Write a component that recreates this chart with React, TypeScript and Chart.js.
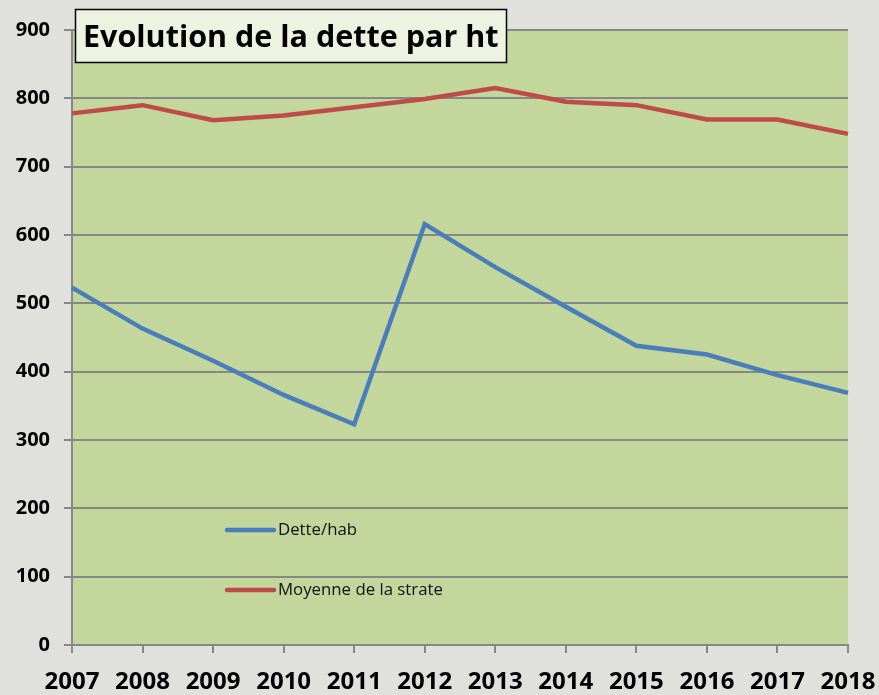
import React, { useEffect, useRef } from "react";
import { Chart, registerables } from "chart.js";

Chart.register(...registerables);

const years = ["2007", "2008", "2009", "2010", "2011", "2012", "2013", "2014", "2015", "2016", "2017", "2018"];
const detteHab = [523, 463, 416, 366, 323, 616, 553, 495, 438, 425, 395, 369];
const moyenneStrate = [778, 790, 768, 775, 787, 799, 815, 795, 790, 769, 769, 748];
const titleText = "Evolution de la dette par ht";
const seriesLabels = ["Dette/hab", "Moyenne de la strate"];

const FONT = "'Open Sans', 'DejaVu Sans', sans-serif";

const plotBg = {
  id: "plotBg",
  beforeDraw(chart: any) {
    const { ctx, chartArea } = chart;
    ctx.save();
    ctx.fillStyle = "#c3d69b";
    ctx.fillRect(chartArea.left, chartArea.top, chartArea.right - chartArea.left, chartArea.bottom - chartArea.top);
    ctx.restore();
  },
};

const overlay = {
  id: "overlay",
  afterDraw(chart: any) {
    const { ctx, chartArea } = chart;
    ctx.save();
    // title box
    const bx = 75.5, by = 9.5, bw = 431, bh = 53;
    ctx.fillStyle = "#eef2e1";
    ctx.fillRect(bx, by, bw, bh);
    ctx.strokeStyle = "#000";
    ctx.lineWidth = 1.5;
    ctx.strokeRect(bx, by, bw, bh);
    ctx.fillStyle = "#000";
    ctx.font = `bold 30.5px ${FONT}`;
    ctx.textBaseline = "middle";
    ctx.textAlign = "left";
    ctx.fillText(titleText, 83, by + bh / 2 + 2);

    // legend
    const lx = chartArea.left + 155;
    const ys = [530, 590];
    chart.data.datasets.forEach((ds: any, i: number) => {
      ctx.strokeStyle = ds.borderColor;
      ctx.lineWidth = 4.5;
      ctx.lineCap = "round";
      ctx.beginPath();
      ctx.moveTo(lx, ys[i]);
      ctx.lineTo(lx + 47, ys[i]);
      ctx.stroke();
      ctx.fillStyle = "#111";
      ctx.font = `16.8px ${FONT}`;
      ctx.textBaseline = "middle";
      ctx.fillText(ds.label, lx + 51, ys[i]);
    });
    ctx.restore();
  },
};

export default function App() {
  const ref = useRef<HTMLCanvasElement>(null);
  useEffect(() => {
    if (!ref.current) return;
    const chart = new Chart(ref.current, {
      type: "line",
      data: {
        labels: years,
        datasets: [
          {
            label: seriesLabels[0],
            data: detteHab,
            borderColor: "#4a7ebb",
            borderWidth: 4.5,
            pointRadius: 0,
            tension: 0,
          },
          {
            label: seriesLabels[1],
            data: moyenneStrate,
            borderColor: "#be4b48",
            borderWidth: 4.5,
            pointRadius: 0,
            tension: 0,
          },
        ],
      },
      options: {
        animation: false,
        responsive: false,
        maintainAspectRatio: false,
        layout: { padding: { top: 30, right: 31, bottom: 0, left: 0 } },
        plugins: { legend: { display: false }, title: { display: false }, tooltip: { enabled: false } },
        scales: {
          x: {
            offset: false,
            grid: { display: true, drawOnChartArea: false, drawTicks: true, tickLength: 8, color: "#878787", lineWidth: 2 },
            border: { display: true, color: "#878787", width: 2 },
            ticks: { color: "#000", font: { family: FONT, size: 24, weight: "bold" }, padding: 15, maxRotation: 0, autoSkip: false },
            afterFit(scale: any) {
              scale.height = 50;
              scale.paddingLeft = 0;
              scale.paddingRight = 0;
            },
          },
          y: {
            min: 0,
            max: 900,
            grid: { color: "#878787", lineWidth: 2, tickLength: 8, drawTicks: true },
            border: { display: true, color: "#878787", width: 2 },
            ticks: { stepSize: 100, color: "#000", font: { family: FONT, size: 20, weight: "bold" }, padding: 14 },
            afterFit(scale: any) {
              scale.width = 72;
              scale.paddingTop = 0;
              scale.paddingBottom = 0;
            },
          },
        },
      },
      plugins: [plotBg, overlay],
    });
    return () => chart.destroy();
  }, []);
  return (
    <div style={{ position: "fixed", left: 0, top: 0, width: 879, height: 695, background: "#e0e0dc" }}>
      <canvas ref={ref} width={879} height={695} style={{ display: "block", width: 879, height: 695 }} />
    </div>
  );
}
